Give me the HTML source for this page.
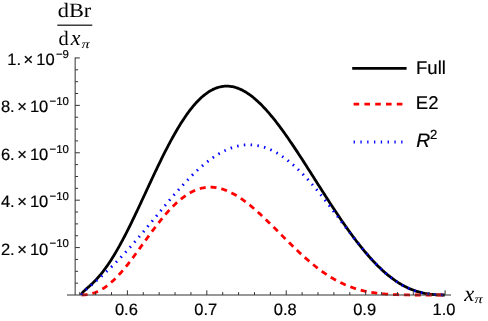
<!DOCTYPE html>
<html><head><meta charset="utf-8"><title>plot</title>
<style>
html,body{margin:0;padding:0;background:#fff;}
svg{display:block;font-family:"Liberation Sans",sans-serif;text-rendering:geometricPrecision;will-change:transform;}
.serif{font-family:"Liberation Serif",serif;}
</style></head>
<body>
<svg width="488" height="321" viewBox="0 0 488 321">
<rect width="488" height="321" fill="#fff"/>
<g fill="none" stroke-linejoin="round">
<path d="M81.60,295.00 L81.85,293.81 L82.10,293.30 L82.35,292.90 L82.60,292.55 L82.85,292.23 L83.10,291.94 L83.35,291.66 L83.60,291.40 L83.85,291.15 L84.10,290.90 L84.35,290.66 L84.60,290.43 L84.85,290.19 L85.10,289.97 L85.35,289.74 L85.60,289.52 L85.85,289.29 L86.10,289.07 L86.35,288.85 L86.60,288.64 L86.85,288.42 L87.10,288.20 L87.35,287.98 L87.60,287.76 L87.85,287.54 L88.10,287.32 L88.35,287.11 L88.60,286.88 L88.85,286.66 L89.10,286.44 L89.35,286.22 L89.60,286.00 L89.85,285.77 L90.10,285.54 L90.35,285.32 L90.60,285.09 L90.85,284.86 L91.10,284.63 L91.35,284.40 L91.60,284.16 L91.85,283.93 L92.10,283.69 L92.35,283.45 L92.60,283.21 L92.85,282.97 L93.10,282.72 L93.35,282.48 L93.60,282.23 L94.60,281.22 L95.60,280.19 L96.60,279.12 L97.60,278.02 L98.60,276.89 L99.60,275.73 L100.60,274.53 L101.60,273.30 L102.60,272.04 L103.60,270.74 L104.60,269.41 L105.60,268.04 L106.60,266.64 L107.60,265.21 L108.60,263.75 L109.60,262.25 L110.60,260.72 L111.60,259.16 L112.60,257.56 L113.60,255.94 L114.60,254.29 L115.60,252.60 L116.60,250.89 L117.60,249.15 L118.60,247.38 L119.60,245.59 L120.60,243.77 L121.60,241.92 L122.60,240.05 L123.60,238.16 L124.60,236.24 L125.60,234.31 L126.60,232.35 L127.60,230.37 L128.60,228.37 L129.60,226.36 L130.60,224.33 L131.60,222.28 L132.60,220.22 L133.60,218.15 L134.60,216.06 L135.60,213.96 L136.60,211.85 L137.60,209.73 L138.60,207.61 L139.60,205.47 L140.60,203.33 L141.60,201.18 L142.60,199.03 L143.60,196.88 L144.60,194.72 L145.60,192.57 L146.60,190.41 L147.60,188.25 L148.60,186.10 L149.60,183.95 L150.60,181.80 L151.60,179.66 L152.60,177.52 L153.60,175.39 L154.60,173.27 L155.60,171.16 L156.60,169.06 L157.60,166.97 L158.60,164.89 L159.60,162.82 L160.60,160.77 L161.60,158.73 L162.60,156.71 L163.60,154.70 L164.60,152.71 L165.60,150.74 L166.60,148.79 L167.60,146.85 L168.60,144.94 L169.60,143.05 L170.60,141.18 L171.60,139.34 L172.60,137.51 L173.60,135.71 L174.60,133.94 L175.60,132.19 L176.60,130.47 L177.60,128.77 L178.60,127.10 L179.60,125.46 L180.60,123.85 L181.60,122.26 L182.60,120.71 L183.60,119.18 L184.60,117.69 L185.60,116.23 L186.60,114.80 L187.60,113.40 L188.60,112.03 L189.60,110.69 L190.60,109.39 L191.60,108.12 L192.60,106.89 L193.60,105.69 L194.60,104.52 L195.60,103.39 L196.60,102.29 L197.60,101.23 L198.60,100.20 L199.60,99.21 L200.60,98.26 L201.60,97.34 L202.60,96.45 L203.60,95.61 L204.60,94.80 L205.60,94.02 L206.60,93.28 L207.60,92.58 L208.60,91.91 L209.60,91.28 L210.60,90.69 L211.60,90.14 L212.60,89.62 L213.60,89.13 L214.60,88.69 L215.60,88.28 L216.60,87.90 L217.60,87.56 L218.60,87.26 L219.60,87.00 L220.60,86.77 L221.60,86.57 L222.60,86.41 L223.60,86.29 L224.60,86.20 L225.60,86.15 L226.60,86.13 L227.60,86.15 L228.60,86.20 L229.60,86.28 L230.60,86.40 L231.60,86.55 L232.60,86.74 L233.60,86.96 L234.60,87.21 L235.60,87.49 L236.60,87.81 L237.60,88.15 L238.60,88.53 L239.60,88.94 L240.60,89.39 L241.60,89.86 L242.60,90.36 L243.60,90.89 L244.60,91.45 L245.60,92.04 L246.60,92.66 L247.60,93.31 L248.60,93.98 L249.60,94.68 L250.60,95.41 L251.60,96.17 L252.60,96.95 L253.60,97.76 L254.60,98.59 L255.60,99.45 L256.60,100.34 L257.60,101.24 L258.60,102.17 L259.60,103.13 L260.60,104.11 L261.60,105.11 L262.60,106.13 L263.60,107.17 L264.60,108.24 L265.60,109.32 L266.60,110.43 L267.60,111.56 L268.60,112.70 L269.60,113.87 L270.60,115.05 L271.60,116.25 L272.60,117.47 L273.60,118.70 L274.60,119.96 L275.60,121.23 L276.60,122.51 L277.60,123.81 L278.60,125.13 L279.60,126.46 L280.60,127.80 L281.60,129.16 L282.60,130.53 L283.60,131.91 L284.60,133.31 L285.60,134.72 L286.60,136.14 L287.60,137.57 L288.60,139.01 L289.60,140.46 L290.60,141.92 L291.60,143.39 L292.60,144.87 L293.60,146.36 L294.60,147.86 L295.60,149.36 L296.60,150.88 L297.60,152.39 L298.60,153.92 L299.60,155.45 L300.60,156.99 L301.60,158.53 L302.60,160.08 L303.60,161.63 L304.60,163.19 L305.60,164.75 L306.60,166.31 L307.60,167.88 L308.60,169.45 L309.60,171.02 L310.60,172.59 L311.60,174.17 L312.60,175.75 L313.60,177.32 L314.60,178.90 L315.60,180.48 L316.60,182.06 L317.60,183.64 L318.60,185.21 L319.60,186.79 L320.60,188.36 L321.60,189.93 L322.60,191.50 L323.60,193.07 L324.60,194.63 L325.60,196.19 L326.60,197.75 L327.60,199.30 L328.60,200.85 L329.60,202.40 L330.60,203.94 L331.60,205.47 L332.60,207.00 L333.60,208.52 L334.60,210.04 L335.60,211.55 L336.60,213.05 L337.60,214.55 L338.60,216.04 L339.60,217.52 L340.60,219.00 L341.60,220.46 L342.60,221.92 L343.60,223.37 L344.60,224.81 L345.60,226.24 L346.60,227.66 L347.60,229.07 L348.60,230.48 L349.60,231.87 L350.60,233.25 L351.60,234.62 L352.60,235.98 L353.60,237.32 L354.60,238.66 L355.60,239.98 L356.60,241.29 L357.60,242.59 L358.60,243.88 L359.60,245.15 L360.60,246.41 L361.60,247.66 L362.60,248.90 L363.60,250.12 L364.60,251.32 L365.60,252.52 L366.60,253.69 L367.60,254.86 L368.60,256.01 L369.60,257.14 L370.60,258.26 L371.60,259.36 L372.60,260.45 L373.60,261.52 L374.60,262.58 L375.60,263.62 L376.60,264.65 L377.60,265.65 L378.60,266.65 L379.60,267.62 L380.60,268.58 L381.60,269.52 L382.60,270.44 L383.60,271.35 L384.60,272.24 L385.60,273.11 L386.60,273.97 L387.60,274.81 L388.60,275.63 L389.60,276.43 L390.60,277.21 L391.60,277.98 L392.60,278.73 L393.60,279.46 L394.60,280.17 L395.60,280.87 L396.60,281.54 L397.60,282.20 L398.60,282.84 L399.60,283.46 L400.60,284.07 L401.60,284.65 L402.60,285.22 L403.60,285.77 L404.60,286.30 L405.60,286.81 L406.60,287.31 L407.60,287.79 L408.60,288.25 L409.60,288.69 L410.60,289.12 L411.60,289.53 L412.60,289.92 L413.60,290.29 L414.60,290.65 L415.60,290.99 L416.60,291.32 L417.60,291.63 L418.60,291.92 L419.60,292.20 L420.60,292.46 L421.60,292.70 L422.60,292.94 L423.60,293.15 L424.60,293.35 L425.60,293.54 L426.60,293.72 L427.60,293.88 L428.60,294.03 L429.60,294.16 L430.60,294.29 L431.60,294.40 L432.60,294.50 L433.60,294.59 L434.60,294.67 L435.60,294.74 L436.60,294.80 L437.60,294.85 L438.60,294.89 L439.60,294.93 L440.60,294.95 L441.60,294.97 L442.60,294.99 L443.60,295.00 L444.60,295.00 L444.80,295.00" stroke="#000" stroke-width="2.8"/>
<path d="M81.60,295.00 L81.85,295.00 L82.10,294.99 L82.35,294.98 L82.60,294.97 L82.85,294.96 L83.10,294.95 L83.35,294.94 L83.60,294.92 L83.85,294.91 L84.10,294.89 L84.35,294.87 L84.60,294.85 L84.85,294.83 L85.10,294.80 L85.35,294.78 L85.60,294.75 L85.85,294.72 L86.10,294.69 L86.35,294.66 L86.60,294.63 L86.85,294.60 L87.10,294.56 L87.35,294.52 L87.60,294.49 L87.85,294.45 L88.10,294.40 L88.35,294.36 L88.60,294.31 L88.85,294.27 L89.10,294.22 L89.35,294.17 L89.60,294.12 L89.85,294.06 L90.10,294.01 L90.35,293.95 L90.60,293.89 L90.85,293.83 L91.10,293.77 L91.35,293.71 L91.60,293.64 L91.85,293.57 L92.10,293.50 L92.35,293.43 L92.60,293.36 L92.85,293.28 L93.10,293.21 L93.35,293.13 L93.60,293.05 L94.60,292.71 L95.60,292.34 L96.60,291.93 L97.60,291.50 L98.60,291.03 L99.60,290.53 L100.60,290.00 L101.60,289.44 L102.60,288.85 L103.60,288.22 L104.60,287.56 L105.60,286.87 L106.60,286.15 L107.60,285.39 L108.60,284.61 L109.60,283.79 L110.60,282.95 L111.60,282.07 L112.60,281.16 L113.60,280.23 L114.60,279.27 L115.60,278.28 L116.60,277.26 L117.60,276.22 L118.60,275.15 L119.60,274.06 L120.60,272.95 L121.60,271.81 L122.60,270.65 L123.60,269.47 L124.60,268.27 L125.60,267.05 L126.60,265.82 L127.60,264.56 L128.60,263.29 L129.60,262.01 L130.60,260.71 L131.60,259.40 L132.60,258.07 L133.60,256.74 L134.60,255.40 L135.60,254.04 L136.60,252.68 L137.60,251.32 L138.60,249.94 L139.60,248.57 L140.60,247.18 L141.60,245.80 L142.60,244.41 L143.60,243.03 L144.60,241.64 L145.60,240.26 L146.60,238.88 L147.60,237.50 L148.60,236.13 L149.60,234.76 L150.60,233.40 L151.60,232.04 L152.60,230.70 L153.60,229.36 L154.60,228.03 L155.60,226.72 L156.60,225.41 L157.60,224.12 L158.60,222.84 L159.60,221.57 L160.60,220.32 L161.60,219.08 L162.60,217.87 L163.60,216.66 L164.60,215.48 L165.60,214.31 L166.60,213.16 L167.60,212.03 L168.60,210.93 L169.60,209.84 L170.60,208.77 L171.60,207.73 L172.60,206.70 L173.60,205.70 L174.60,204.73 L175.60,203.77 L176.60,202.84 L177.60,201.94 L178.60,201.06 L179.60,200.20 L180.60,199.37 L181.60,198.57 L182.60,197.79 L183.60,197.04 L184.60,196.32 L185.60,195.62 L186.60,194.95 L187.60,194.31 L188.60,193.69 L189.60,193.10 L190.60,192.54 L191.60,192.01 L192.60,191.50 L193.60,191.03 L194.60,190.58 L195.60,190.16 L196.60,189.76 L197.60,189.40 L198.60,189.06 L199.60,188.76 L200.60,188.48 L201.60,188.22 L202.60,188.00 L203.60,187.80 L204.60,187.63 L205.60,187.49 L206.60,187.38 L207.60,187.29 L208.60,187.24 L209.60,187.20 L210.60,187.20 L211.60,187.22 L212.60,187.27 L213.60,187.35 L214.60,187.45 L215.60,187.57 L216.60,187.73 L217.60,187.90 L218.60,188.11 L219.60,188.33 L220.60,188.58 L221.60,188.86 L222.60,189.16 L223.60,189.48 L224.60,189.83 L225.60,190.20 L226.60,190.59 L227.60,191.00 L228.60,191.44 L229.60,191.90 L230.60,192.38 L231.60,192.88 L232.60,193.40 L233.60,193.93 L234.60,194.49 L235.60,195.07 L236.60,195.67 L237.60,196.29 L238.60,196.92 L239.60,197.57 L240.60,198.24 L241.60,198.92 L242.60,199.63 L243.60,200.34 L244.60,201.08 L245.60,201.82 L246.60,202.59 L247.60,203.36 L248.60,204.15 L249.60,204.96 L250.60,205.78 L251.60,206.60 L252.60,207.45 L253.60,208.30 L254.60,209.16 L255.60,210.04 L256.60,210.92 L257.60,211.82 L258.60,212.72 L259.60,213.64 L260.60,214.56 L261.60,215.49 L262.60,216.43 L263.60,217.37 L264.60,218.32 L265.60,219.28 L266.60,220.24 L267.60,221.21 L268.60,222.19 L269.60,223.16 L270.60,224.15 L271.60,225.13 L272.60,226.12 L273.60,227.12 L274.60,228.11 L275.60,229.11 L276.60,230.11 L277.60,231.11 L278.60,232.11 L279.60,233.11 L280.60,234.12 L281.60,235.12 L282.60,236.12 L283.60,237.12 L284.60,238.12 L285.60,239.11 L286.60,240.11 L287.60,241.10 L288.60,242.09 L289.60,243.07 L290.60,244.06 L291.60,245.04 L292.60,246.01 L293.60,246.98 L294.60,247.94 L295.60,248.90 L296.60,249.85 L297.60,250.80 L298.60,251.74 L299.60,252.68 L300.60,253.60 L301.60,254.53 L302.60,255.44 L303.60,256.34 L304.60,257.24 L305.60,258.13 L306.60,259.01 L307.60,259.88 L308.60,260.75 L309.60,261.60 L310.60,262.45 L311.60,263.28 L312.60,264.11 L313.60,264.92 L314.60,265.73 L315.60,266.52 L316.60,267.30 L317.60,268.08 L318.60,268.84 L319.60,269.59 L320.60,270.33 L321.60,271.06 L322.60,271.78 L323.60,272.48 L324.60,273.17 L325.60,273.86 L326.60,274.53 L327.60,275.18 L328.60,275.83 L329.60,276.46 L330.60,277.08 L331.60,277.69 L332.60,278.29 L333.60,278.87 L334.60,279.45 L335.60,280.01 L336.60,280.55 L337.60,281.09 L338.60,281.61 L339.60,282.12 L340.60,282.62 L341.60,283.10 L342.60,283.58 L343.60,284.04 L344.60,284.49 L345.60,284.92 L346.60,285.35 L347.60,285.76 L348.60,286.16 L349.60,286.55 L350.60,286.93 L351.60,287.29 L352.60,287.65 L353.60,287.99 L354.60,288.32 L355.60,288.64 L356.60,288.95 L357.60,289.25 L358.60,289.54 L359.60,289.82 L360.60,290.09 L361.60,290.34 L362.60,290.59 L363.60,290.83 L364.60,291.06 L365.60,291.28 L366.60,291.49 L367.60,291.69 L368.60,291.88 L369.60,292.07 L370.60,292.24 L371.60,292.41 L372.60,292.57 L373.60,292.73 L374.60,292.87 L375.60,293.01 L376.60,293.14 L377.60,293.27 L378.60,293.38 L379.60,293.50 L380.60,293.60 L381.60,293.70 L382.60,293.80 L383.60,293.89 L384.60,293.97 L385.60,294.05 L386.60,294.12 L387.60,294.19 L388.60,294.26 L389.60,294.32 L390.60,294.38 L391.60,294.43 L392.60,294.49 L393.60,294.53 L394.60,294.58 L395.60,294.62 L396.60,294.66 L397.60,294.69 L398.60,294.73 L399.60,294.76 L400.60,294.79 L401.60,294.82 L402.60,294.84 L403.60,294.87 L404.60,294.89 L405.60,294.91 L406.60,294.93 L407.60,294.94 L408.60,294.96 L409.60,294.98 L410.60,294.99 L411.60,295.00 L412.60,295.00 L413.60,295.00 L414.60,295.00 L415.60,295.00 L416.60,295.00 L417.60,295.00 L418.60,295.00 L419.60,295.00 L420.60,295.00 L421.60,295.00 L422.60,295.00 L423.60,295.00 L424.60,295.00 L425.60,295.00 L426.60,295.00 L427.60,295.00 L428.60,295.00 L429.60,295.00 L430.60,295.00 L431.60,295.00 L432.60,295.00 L433.60,295.00 L434.60,295.00 L435.60,295.00 L436.60,295.00 L437.60,295.00 L438.60,295.00 L439.60,295.00 L440.60,295.00 L441.60,295.00 L442.60,295.00 L443.60,295.00 L444.60,295.00 L444.80,295.00" stroke="#ff0000" stroke-width="2.8" stroke-dasharray="6 4.9"/>
<path d="M81.60,295.00 L81.85,293.97 L82.10,293.53 L82.35,293.17 L82.60,292.85 L82.85,292.56 L83.10,292.29 L83.35,292.03 L83.60,291.78 L83.85,291.54 L84.10,291.30 L84.35,291.07 L84.60,290.84 L84.85,290.61 L85.10,290.39 L85.35,290.17 L85.60,289.95 L85.85,289.73 L86.10,289.52 L86.35,289.30 L86.60,289.09 L86.85,288.87 L87.10,288.66 L87.35,288.45 L87.60,288.24 L87.85,288.02 L88.10,287.81 L88.35,287.60 L88.60,287.39 L88.85,287.18 L89.10,286.97 L89.35,286.76 L89.60,286.54 L89.85,286.33 L90.10,286.12 L90.35,285.91 L90.60,285.70 L90.85,285.49 L91.10,285.27 L91.35,285.06 L91.60,284.85 L91.85,284.64 L92.10,284.42 L92.35,284.21 L92.60,284.00 L92.85,283.78 L93.10,283.57 L93.35,283.36 L93.60,283.14 L94.60,282.28 L95.60,281.41 L96.60,280.54 L97.60,279.66 L98.60,278.78 L99.60,277.89 L100.60,276.99 L101.60,276.09 L102.60,275.18 L103.60,274.26 L104.60,273.33 L105.60,272.40 L106.60,271.46 L107.60,270.52 L108.60,269.56 L109.60,268.60 L110.60,267.63 L111.60,266.65 L112.60,265.67 L113.60,264.68 L114.60,263.68 L115.60,262.67 L116.60,261.65 L117.60,260.63 L118.60,259.59 L119.60,258.55 L120.60,257.51 L121.60,256.45 L122.60,255.39 L123.60,254.32 L124.60,253.24 L125.60,252.15 L126.60,251.06 L127.60,249.96 L128.60,248.85 L129.60,247.73 L130.60,246.61 L131.60,245.48 L132.60,244.35 L133.60,243.21 L134.60,242.06 L135.60,240.91 L136.60,239.75 L137.60,238.58 L138.60,237.42 L139.60,236.24 L140.60,235.06 L141.60,233.88 L142.60,232.69 L143.60,231.50 L144.60,230.30 L145.60,229.10 L146.60,227.90 L147.60,226.70 L148.60,225.49 L149.60,224.28 L150.60,223.07 L151.60,221.86 L152.60,220.64 L153.60,219.43 L154.60,218.21 L155.60,216.99 L156.60,215.78 L157.60,214.56 L158.60,213.35 L159.60,212.13 L160.60,210.92 L161.60,209.71 L162.60,208.50 L163.60,207.29 L164.60,206.09 L165.60,204.89 L166.60,203.69 L167.60,202.50 L168.60,201.31 L169.60,200.12 L170.60,198.94 L171.60,197.77 L172.60,196.60 L173.60,195.43 L174.60,194.28 L175.60,193.13 L176.60,191.98 L177.60,190.84 L178.60,189.71 L179.60,188.59 L180.60,187.48 L181.60,186.37 L182.60,185.27 L183.60,184.19 L184.60,183.11 L185.60,182.04 L186.60,180.98 L187.60,179.93 L188.60,178.89 L189.60,177.87 L190.60,176.85 L191.60,175.84 L192.60,174.85 L193.60,173.87 L194.60,172.90 L195.60,171.95 L196.60,171.00 L197.60,170.07 L198.60,169.15 L199.60,168.25 L200.60,167.36 L201.60,166.49 L202.60,165.62 L203.60,164.78 L204.60,163.94 L205.60,163.13 L206.60,162.33 L207.60,161.54 L208.60,160.77 L209.60,160.01 L210.60,159.28 L211.60,158.55 L212.60,157.85 L213.60,157.16 L214.60,156.49 L215.60,155.83 L216.60,155.19 L217.60,154.57 L218.60,153.97 L219.60,153.38 L220.60,152.82 L221.60,152.27 L222.60,151.74 L223.60,151.23 L224.60,150.73 L225.60,150.26 L226.60,149.80 L227.60,149.36 L228.60,148.95 L229.60,148.55 L230.60,148.17 L231.60,147.81 L232.60,147.47 L233.60,147.15 L234.60,146.85 L235.60,146.57 L236.60,146.31 L237.60,146.06 L238.60,145.84 L239.60,145.64 L240.60,145.46 L241.60,145.31 L242.60,145.17 L243.60,145.05 L244.60,144.95 L245.60,144.87 L246.60,144.82 L247.60,144.78 L248.60,144.77 L249.60,144.77 L250.60,144.80 L251.60,144.85 L252.60,144.92 L253.60,145.01 L254.60,145.12 L255.60,145.25 L256.60,145.40 L257.60,145.58 L258.60,145.77 L259.60,145.99 L260.60,146.22 L261.60,146.48 L262.60,146.76 L263.60,147.06 L264.60,147.38 L265.60,147.72 L266.60,148.08 L267.60,148.46 L268.60,148.86 L269.60,149.29 L270.60,149.73 L271.60,150.19 L272.60,150.68 L273.60,151.18 L274.60,151.71 L275.60,152.25 L276.60,152.81 L277.60,153.40 L278.60,154.00 L279.60,154.62 L280.60,155.27 L281.60,155.93 L282.60,156.61 L283.60,157.31 L284.60,158.03 L285.60,158.76 L286.60,159.52 L287.60,160.29 L288.60,161.09 L289.60,161.90 L290.60,162.72 L291.60,163.57 L292.60,164.43 L293.60,165.31 L294.60,166.21 L295.60,167.12 L296.60,168.05 L297.60,168.99 L298.60,169.96 L299.60,170.93 L300.60,171.93 L301.60,172.93 L302.60,173.96 L303.60,174.99 L304.60,176.04 L305.60,177.11 L306.60,178.19 L307.60,179.28 L308.60,180.39 L309.60,181.50 L310.60,182.64 L311.60,183.78 L312.60,184.93 L313.60,186.10 L314.60,187.28 L315.60,188.46 L316.60,189.66 L317.60,190.87 L318.60,192.09 L319.60,193.31 L320.60,194.55 L321.60,195.80 L322.60,197.05 L323.60,198.31 L324.60,199.58 L325.60,200.85 L326.60,202.13 L327.60,203.42 L328.60,204.71 L329.60,206.01 L330.60,207.31 L331.60,208.62 L332.60,209.93 L333.60,211.24 L334.60,212.56 L335.60,213.88 L336.60,215.20 L337.60,216.52 L338.60,217.84 L339.60,219.17 L340.60,220.49 L341.60,221.82 L342.60,223.14 L343.60,224.47 L344.60,225.79 L345.60,227.11 L346.60,228.42 L347.60,229.74 L348.60,231.05 L349.60,232.36 L350.60,233.66 L351.60,234.95 L352.60,236.25 L353.60,237.53 L354.60,238.81 L355.60,240.09 L356.60,241.35 L357.60,242.61 L358.60,243.86 L359.60,245.10 L360.60,246.33 L361.60,247.56 L362.60,248.77 L363.60,249.97 L364.60,251.17 L365.60,252.35 L366.60,253.52 L367.60,254.68 L368.60,255.82 L369.60,256.96 L370.60,258.08 L371.60,259.18 L372.60,260.28 L373.60,261.36 L374.60,262.42 L375.60,263.47 L376.60,264.51 L377.60,265.52 L378.60,266.53 L379.60,267.52 L380.60,268.49 L381.60,269.44 L382.60,270.38 L383.60,271.30 L384.60,272.20 L385.60,273.09 L386.60,273.96 L387.60,274.81 L388.60,275.64 L389.60,276.45 L390.60,277.25 L391.60,278.03 L392.60,278.78 L393.60,279.52 L394.60,280.24 L395.60,280.95 L396.60,281.63 L397.60,282.29 L398.60,282.94 L399.60,283.56 L400.60,284.17 L401.60,284.76 L402.60,285.33 L403.60,285.88 L404.60,286.41 L405.60,286.92 L406.60,287.42 L407.60,287.89 L408.60,288.35 L409.60,288.79 L410.60,289.21 L411.60,289.61 L412.60,290.00 L413.60,290.37 L414.60,290.72 L415.60,291.05 L416.60,291.37 L417.60,291.67 L418.60,291.96 L419.60,292.23 L420.60,292.48 L421.60,292.72 L422.60,292.95 L423.60,293.16 L424.60,293.36 L425.60,293.54 L426.60,293.71 L427.60,293.87 L428.60,294.01 L429.60,294.15 L430.60,294.27 L431.60,294.38 L432.60,294.48 L433.60,294.57 L434.60,294.65 L435.60,294.72 L436.60,294.78 L437.60,294.83 L438.60,294.88 L439.60,294.92 L440.60,294.95 L441.60,294.97 L442.60,294.99 L443.60,295.00 L444.60,295.00 L444.80,295.00" stroke="#0000ff" stroke-width="2.8" stroke-dasharray="1.5 5.3"/>
</g>
<g stroke="#333" stroke-width="1" fill="none">
<line x1="67.0" y1="295.0" x2="451" y2="295.0"/>
<line x1="75.15" y1="295.0" x2="75.15" y2="57.5"/>
</g>
<g stroke="#333" stroke-width="1" fill="none">
<line x1="79.75" y1="295.0" x2="79.75" y2="292.10"/>
<line x1="95.63" y1="295.0" x2="95.63" y2="292.10"/>
<line x1="111.52" y1="295.0" x2="111.52" y2="292.10"/>
<line x1="127.40" y1="295.0" x2="127.40" y2="290.30"/>
<line x1="143.28" y1="295.0" x2="143.28" y2="292.10"/>
<line x1="159.17" y1="295.0" x2="159.17" y2="292.10"/>
<line x1="175.05" y1="295.0" x2="175.05" y2="292.10"/>
<line x1="190.94" y1="295.0" x2="190.94" y2="292.10"/>
<line x1="206.82" y1="295.0" x2="206.82" y2="290.30"/>
<line x1="222.70" y1="295.0" x2="222.70" y2="292.10"/>
<line x1="238.59" y1="295.0" x2="238.59" y2="292.10"/>
<line x1="254.47" y1="295.0" x2="254.47" y2="292.10"/>
<line x1="270.36" y1="295.0" x2="270.36" y2="292.10"/>
<line x1="286.24" y1="295.0" x2="286.24" y2="290.30"/>
<line x1="302.12" y1="295.0" x2="302.12" y2="292.10"/>
<line x1="318.01" y1="295.0" x2="318.01" y2="292.10"/>
<line x1="333.89" y1="295.0" x2="333.89" y2="292.10"/>
<line x1="349.78" y1="295.0" x2="349.78" y2="292.10"/>
<line x1="365.66" y1="295.0" x2="365.66" y2="290.30"/>
<line x1="381.54" y1="295.0" x2="381.54" y2="292.10"/>
<line x1="397.43" y1="295.0" x2="397.43" y2="292.10"/>
<line x1="413.31" y1="295.0" x2="413.31" y2="292.10"/>
<line x1="429.20" y1="295.0" x2="429.20" y2="292.10"/>
<line x1="445.08" y1="295.0" x2="445.08" y2="290.30"/>
<line x1="75.15" y1="283.15" x2="78.05" y2="283.15"/>
<line x1="75.15" y1="271.30" x2="78.05" y2="271.30"/>
<line x1="75.15" y1="259.44" x2="78.05" y2="259.44"/>
<line x1="75.15" y1="247.59" x2="79.85" y2="247.59"/>
<line x1="75.15" y1="235.74" x2="78.05" y2="235.74"/>
<line x1="75.15" y1="223.88" x2="78.05" y2="223.88"/>
<line x1="75.15" y1="212.03" x2="78.05" y2="212.03"/>
<line x1="75.15" y1="200.18" x2="79.85" y2="200.18"/>
<line x1="75.15" y1="188.33" x2="78.05" y2="188.33"/>
<line x1="75.15" y1="176.48" x2="78.05" y2="176.48"/>
<line x1="75.15" y1="164.62" x2="78.05" y2="164.62"/>
<line x1="75.15" y1="152.77" x2="79.85" y2="152.77"/>
<line x1="75.15" y1="140.92" x2="78.05" y2="140.92"/>
<line x1="75.15" y1="129.06" x2="78.05" y2="129.06"/>
<line x1="75.15" y1="117.21" x2="78.05" y2="117.21"/>
<line x1="75.15" y1="105.36" x2="79.85" y2="105.36"/>
<line x1="75.15" y1="93.51" x2="78.05" y2="93.51"/>
<line x1="75.15" y1="81.66" x2="78.05" y2="81.66"/>
<line x1="75.15" y1="69.80" x2="78.05" y2="69.80"/>
<line x1="75.15" y1="57.95" x2="79.85" y2="57.95"/>
</g>
<g font-size="16.5" fill="#000" stroke="#000" stroke-width="0.2">
<text x="126.40" y="315.3" text-anchor="middle">0.6</text>
<text x="205.82" y="315.3" text-anchor="middle">0.7</text>
<text x="285.24" y="315.3" text-anchor="middle">0.8</text>
<text x="364.66" y="315.3" text-anchor="middle">0.9</text>
<text x="444.08" y="315.3" text-anchor="middle">1.0</text>
<text x="68.9" y="254.69" text-anchor="end">2.<tspan dx="2.5">×</tspan><tspan dx="3.1">10</tspan><tspan font-size="11.4" dy="-7.3" dx="1.3">−10</tspan></text>
<text x="68.9" y="207.28" text-anchor="end">4.<tspan dx="2.5">×</tspan><tspan dx="3.1">10</tspan><tspan font-size="11.4" dy="-7.3" dx="1.3">−10</tspan></text>
<text x="68.9" y="159.87" text-anchor="end">6.<tspan dx="2.5">×</tspan><tspan dx="3.1">10</tspan><tspan font-size="11.4" dy="-7.3" dx="1.3">−10</tspan></text>
<text x="68.9" y="112.46" text-anchor="end">8.<tspan dx="2.5">×</tspan><tspan dx="3.1">10</tspan><tspan font-size="11.4" dy="-7.3" dx="1.3">−10</tspan></text>
<text x="68.9" y="65.05" text-anchor="end">1.<tspan dx="2.5">×</tspan><tspan dx="3.1">10</tspan><tspan font-size="11.4" dy="-7.3" dx="1.3">−9</tspan></text>
</g>
<!-- legend -->
<line x1="352.2" y1="68.3" x2="406.6" y2="68.3" stroke="#000" stroke-width="2.8"/>
<line x1="353.6" y1="104.1" x2="403" y2="104.1" stroke="#ff0000" stroke-width="2.8" stroke-dasharray="5.6 5.2"/>
<line x1="353.6" y1="142" x2="403" y2="142" stroke="#0000ff" stroke-width="2.8" stroke-dasharray="1.3 5.5"/>
<g font-size="18.5" fill="#000" stroke="#000" stroke-width="0.2">
<text x="416.05" y="73.55">Full</text>
<text x="415.8" y="109">E2</text>
<text x="416.3" y="147.0" font-size="19.4" font-style="italic">R<tspan font-size="13.2" dy="-8.0" dx="-0.2" font-style="normal">2</tspan></text>
</g>
<!-- y label -->
<g class="serif" fill="#000">
<text x="57.8" y="16.5" font-size="20.4" textLength="33.5" lengthAdjust="spacingAndGlyphs">dBr</text>
<rect x="57.3" y="24.6" width="35" height="1.15" fill="#000"/>
<text x="58.4" y="45.0" font-size="20.4">d<tspan font-style="italic" font-size="22" dx="2.2">x</tspan></text>
<text transform="translate(81.6,48.1) scale(1.36,1)" font-size="12" font-style="italic">π</text>
<text x="464.2" y="300.7" font-size="22.5" font-style="italic">x</text>
<text transform="translate(474.6,303.2) scale(1.36,1)" font-size="12" font-style="italic">π</text>
</g>
</svg>
</body></html>
